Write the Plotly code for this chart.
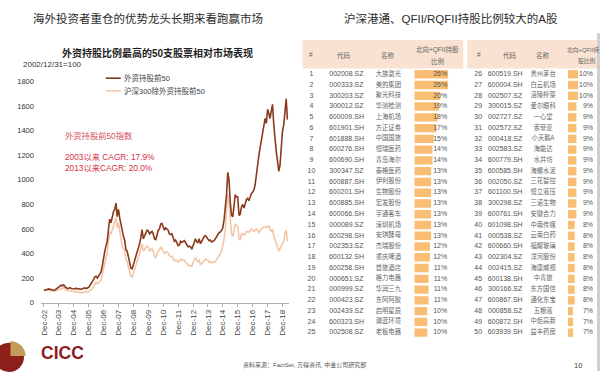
import math
import pandas as pd
import plotly.graph_objects as go

W, H = 600, 376

# ---------------- data ----------------
dates = pd.date_range("2002-12-31", "2019-04-30", freq="ME")

top50 = [100,
    105, 108, 110, 112, 108, 104, 102, 100, 104, 112, 120, 130,
    140, 142, 138, 145, 128, 118, 115, 118, 122, 116, 118, 114,
    112, 118, 112, 115, 108, 112, 110, 118, 120, 115, 117, 125,
    140, 155, 165, 190, 210, 215, 200, 215, 230, 250, 300, 380,
    420, 460, 500, 600, 680, 650, 700, 740, 760, 810, 700, 760,
    690, 640, 560, 540, 510, 430, 420, 370, 340, 280, 275, 310,
    340, 370, 410, 440, 480, 530, 595, 520, 540, 570, 590, 585,
    560, 570, 580, 560, 520, 510, 560, 590, 600, 640, 645, 615,
    590, 610, 600, 590, 560, 555, 560, 530, 500, 510, 490, 465,
    470, 500, 490, 500, 505, 490, 470, 455, 460, 455, 435, 460,
    500, 520, 495, 490, 520, 480, 500, 520, 540, 545, 530, 520,
    505, 510, 495, 500, 505, 520, 545, 555, 570, 575, 590, 610,
    680, 760, 880, 1060, 1000, 820, 710, 700, 790, 880, 860, 860,
    710, 720, 780, 800, 770, 800, 840, 850, 830, 860, 890, 900,
    920, 960, 1050, 1160, 1200, 1260, 1330, 1400, 1455, 1500, 1460, 1575,
    1540, 1500, 1560, 1615, 1450, 1300, 1230, 1150, 1070, 1120, 1250, 1400,
    1450, 1560, 1660, 1490]

hs300_ex = [100,
    102, 105, 104, 103, 100, 98, 96, 94, 95, 98, 102, 108,
    115, 120, 118, 122, 108, 100, 98, 97, 100, 95, 96, 92,
    90, 92, 86, 85, 80, 82, 80, 84, 85, 82, 83, 90,
    100, 108, 112, 130, 155, 165, 155, 160, 170, 185, 230, 300,
    340, 380, 410, 500, 580, 560, 600, 640, 660, 690, 610, 650,
    580, 540, 460, 440, 420, 350, 340, 290, 260, 215, 210, 240,
    270, 300, 340, 370, 400, 440, 480, 420, 430, 450, 460, 450,
    420, 430, 440, 420, 380, 370, 400, 420, 430, 455, 440, 420,
    400, 410, 415, 405, 380, 375, 380, 360, 340, 345, 345, 330,
    335, 355, 345, 350, 345, 330, 320, 305, 300, 300, 295, 325,
    355, 370, 345, 335, 345, 310, 315, 330, 345, 355, 350, 345,
    330, 335, 325, 330, 330, 335, 350, 365, 380, 400, 420, 470,
    520, 600, 720, 880, 820, 650, 560, 540, 600, 640, 630, 620,
    520, 510, 560, 560, 550, 560, 580, 580, 575, 590, 600, 590,
    580, 590, 600, 590, 570, 585, 600, 610, 615, 620, 610, 615,
    630, 590, 580, 600, 545, 510, 480, 450, 420, 440, 460, 470,
    500, 560, 590, 500]

tick_years = list(range(2002, 2019))
tick_labels = ["Dec-%02d" % (y % 100) for y in tick_years]
y_ticks = list(range(0, 2000, 200))

left_rank = list(range(1, 26))
left_code = ["002008.SZ", "000333.SZ", "300203.SZ", "300012.SZ", "600009.SH",
             "601901.SH", "601888.SH", "600276.SH", "600690.SH", "300347.SZ",
             "600887.SH", "600201.SH", "600885.SH", "600066.SH", "000089.SZ",
             "600298.SH", "002353.SZ", "600132.SH", "600258.SH", "000651.SZ",
             "000999.SZ", "000423.SZ", "002439.SZ", "600323.SH", "002508.SZ"]
left_name = ["大族激光", "美的集团", "聚光科技", "华测检测", "上海机场",
             "方正证券", "中国国旅", "恒瑞医药", "青岛海尔", "泰格医药",
             "伊利股份", "生物股份", "宏发股份", "宇通客车", "深圳机场",
             "安琪酵母", "杰瑞股份", "重庆啤酒", "首旅酒店", "格力电器",
             "华润三九", "东阿阿胶", "启明星辰", "瀚蓝环境", "老板电器"]
left_pct = [26, 26, 20, 19, 18, 17, 15, 14, 14, 13, 13, 13, 13, 13, 13,
            13, 12, 12, 11, 11, 11, 11, 10, 10, 10]

right_rank = list(range(26, 51))
right_code = ["600519.SH", "600004.SH", "002507.SZ", "300015.SZ", "002727.SZ",
              "002572.SZ", "000418.SZ", "002583.SZ", "600779.SH", "600585.SH",
              "002050.SZ", "601100.SH", "300298.SZ", "600761.SH", "601098.SH",
              "000538.SZ", "600660.SH", "002304.SZ", "002415.SZ", "600138.SH",
              "300166.SZ", "600867.SH", "000858.SZ", "600872.SH", "603939.SH"]
right_name = ["贵州茅台", "白云机场", "涪陵榨菜", "爱尔眼科", "一心堂",
              "索菲亚", "小天鹅A", "海能达", "水井坊", "海螺水泥",
              "三花智控", "恒立液压", "三诺生物", "安徽合力", "中南传媒",
              "云南白药", "福耀玻璃", "洋河股份", "海康威视", "中青旅",
              "东方国信", "通化东宝", "五粮液", "中炬高新", "益丰药房"]
right_pct = [10, 10, 10, 9, 9, 9, 9, 9, 9, 9, 9, 9, 9, 9, 8, 8, 8, 8, 8, 8,
             8, 8, 7, 7, 7]

# ---------------- styling helpers ----------------
LAT = "Liberation Sans, Arial, Noto Sans CJK SC, sans-serif"
CJK = "Noto Sans CJK SC, sans-serif"
DARK = "#8a3a1c"
LIGHT = "#f3c6a9"
BAR = "#f9bd73"
HEAD = "#f9e2d1"


def fx(p):
    return p / W


def fy(p):
    return 1 - p / H


fig = go.Figure()

# ---------------- line chart ----------------
fig.add_trace(go.Scatter(x=dates, y=hs300_ex, mode="lines",
                         line=dict(color=LIGHT, width=1.6), name="沪深300除外资持股前50",
                         xaxis="x", yaxis="y", showlegend=False))
fig.add_trace(go.Scatter(x=dates, y=top50, mode="lines",
                         line=dict(color=DARK, width=1.6), name="外资持股前50",
                         xaxis="x", yaxis="y", showlegend=False))

# ---------------- tables ----------------
row_idx = list(range(1, 26))
text_font = dict(family=LAT, size=7, color="#555")
name_font = dict(family=CJK, size=6.3, color="#666")

fig.add_trace(go.Bar(x=left_pct, y=row_idx, orientation="h", width=0.78,
                     marker=dict(color=BAR, line=dict(width=0)),
                     xaxis="x2", yaxis="y2", showlegend=False, hoverinfo="skip"))
for colx, txt, fnt, pos in [
        (311, [str(r) for r in left_rank], text_font, "middle center"),
        (346, left_code, text_font, "middle center"),
        (388, left_name, name_font, "middle center"),
        (447, ["%d%%" % v for v in left_pct], text_font, "middle left")]:
    fig.add_trace(go.Scatter(x=[colx] * len(txt), y=row_idx, mode="text",
                             text=txt, textposition=pos, textfont=fnt,
                             xaxis="x3", yaxis="y2", showlegend=False, hoverinfo="skip"))

fig.add_trace(go.Bar(x=right_pct, y=row_idx, orientation="h", width=0.78,
                     marker=dict(color=BAR, line=dict(width=0)),
                     xaxis="x4", yaxis="y4", showlegend=False, hoverinfo="skip"))
for colx, txt, fnt, pos in [
        (478, [str(r) for r in right_rank], text_font, "middle center"),
        (505, right_code, text_font, "middle center"),
        (543, right_name, name_font, "middle center"),
        (593, ["%d%%" % v for v in right_pct], text_font, "middle left")]:
    fig.add_trace(go.Scatter(x=[colx] * len(txt), y=row_idx, mode="text",
                             text=txt, textposition=pos, textfont=fnt,
                             xaxis="x5", yaxis="y4", showlegend=False, hoverinfo="skip"))

row_top, row_h = 72, 11.03
tab_dom = [fy(row_top + 24.5 * row_h), fy(row_top - 0.5 * row_h)]
hidden = dict(visible=False, fixedrange=True)

fig.update_layout(
    width=W, height=H, margin=dict(l=0, r=0, t=0, b=0),
    paper_bgcolor="white", plot_bgcolor="rgba(0,0,0,0)",
    showlegend=False,
    xaxis=dict(domain=[fx(40), fx(288)], type="date",
               range=["2002-10-19", "2019-05-27"],
               tickvals=[pd.Timestamp("%d-12-31" % y) for y in tick_years],
               ticktext=tick_labels, tickangle=-90,
               tickfont=dict(family=LAT, size=8, color="#444"),
               showgrid=False, zeroline=False, showline=True,
               linecolor="#b0b0b0", linewidth=1, ticks="outside",
               ticklen=3, tickcolor="#b0b0b0", anchor="y"),
    yaxis=dict(domain=[fy(306), fy(79.5)], range=[0, 1800],
               tickvals=y_ticks, showgrid=False, zeroline=False,
               showline=False, ticks="", ticklabelstandoff=6,
               tickfont=dict(family=LAT, size=7.5, color="#333"), anchor="x"),
    xaxis2=dict(domain=[fx(414), fx(463)], range=[0, 37.7], anchor="y2", **hidden),
    yaxis2=dict(domain=tab_dom, range=[25.5, 0.5], anchor="x2", **hidden),
    xaxis3=dict(domain=[fx(302), fx(463)], range=[302, 463], anchor="y2", **hidden),
    xaxis4=dict(domain=[fx(568), 1.0], range=[4, 23.2], anchor="y4", **hidden),
    yaxis4=dict(domain=tab_dom, range=[25.5, 0.5], anchor="x4", **hidden),
    xaxis5=dict(domain=[fx(467), 1.0], range=[467, 600], anchor="y4", **hidden),
)

shapes = []
shapes.append(dict(type="rect", xref="paper", yref="paper", x0=fx(302), x1=fx(463),
                   y0=fy(66), y1=fy(37), fillcolor=HEAD, line=dict(width=0), layer="below"))
shapes.append(dict(type="rect", xref="paper", yref="paper", x0=fx(467), x1=1.0,
                   y0=fy(66), y1=fy(37), fillcolor=HEAD, line=dict(width=0), layer="below"))
shapes.append(dict(type="line", xref="paper", yref="paper", x0=fx(105), x1=fx(120),
                   y0=fy(76), y1=fy(76), line=dict(color=DARK, width=1.6)))
shapes.append(dict(type="line", xref="paper", yref="paper", x0=fx(105), x1=fx(120),
                   y0=fy(89), y1=fy(89), line=dict(color=LIGHT, width=1.6)))
shapes.append(dict(type="rect", xref="paper", yref="paper", x0=fx(597), x1=1.0,
                   y0=fy(376), y1=fy(30), fillcolor="#cfcfcf", line=dict(width=0),
                   layer="below"))
shapes.append(dict(type="circle", xref="paper", yref="paper", x0=fx(-7), x1=fx(23),
                   y0=fy(377), y1=fy(347), fillcolor="#8d1f1a", line=dict(width=0)))
cx, cy, r = 8, 362, 15
pts = []
for k in range(0, 31):
    a = math.radians(-90 + 90 * k / 30)
    pts.append((cx + r * math.cos(a), cy + r * math.sin(a)))
path = "M %.4f %.4f " % (fx(cx + 1.5), fy(cy - 1.5))
path += " ".join("L %.4f %.4f" % (fx(px + 1.5), fy(py - 1.5)) for px, py in pts) + " Z"
shapes.append(dict(type="path", xref="paper", yref="paper", path=path,
                   fillcolor="#c49a5a", line=dict(width=0)))
fig.update_layout(shapes=shapes)

ann = []


def text(x, y, s, size, color="#333", family=CJK, xanchor="center", bold=False):
    if bold:
        s = "<b>%s</b>" % s
    ann.append(dict(x=fx(x), y=fy(y), xref="paper", yref="paper", text=s,
                    showarrow=False, xanchor=xanchor, yanchor="middle",
                    font=dict(family=family, size=size, color=color)))


text(147, 14, "海外投资者重仓的优势龙头长期来看跑赢市场", 11.5, "#2b2b2b")
text(451, 15, "沪深港通、QFII/RQFII持股比例较大的A股", 11.5, "#2b2b2b", family=LAT)
text(157, 50, "外资持股比例最高的50支股票相对市场表现", 10, "#222", family=LAT, bold=True)
text(20, 62, "2002/12/31=100", 8, "#333", family=LAT, xanchor="left")
text(121, 76, "外资持股前50", 7.5, "#444", family=LAT, xanchor="left")
text(121, 89, "沪深300除外资持股前50", 7.5, "#444", family=LAT, xanchor="left")
text(62, 135, "外资持股前50指数", 8.3, "#d4505f", family=LAT, xanchor="left")
text(62, 157, "2003以来 CAGR: 17.9%", 8.3, "#d0303f", family=LAT, xanchor="left")
text(62, 168, "2013以来CAGR: 20.0%", 8.3, "#d0303f", family=LAT, xanchor="left")
hc = "#666"
text(311, 52, "#", 6.5, hc, family=LAT)
text(344, 52, "代码", 6.5, hc)
text(388, 52, "名称", 6.5, hc)
text(437, 47, "北向+QFII持股", 6.5, hc, family=LAT)
text(437, 58, "比例", 6.5, hc)
text(479, 52, "#", 6.5, hc, family=LAT)
text(510, 52, "代码", 6.5, hc)
text(543, 52, "名称", 6.5, hc)
text(565, 47, "北向+QFII持", 5.8, hc, family=LAT, xanchor="left")
text(576, 58, "股比例", 5.8, hc, xanchor="left")
text(38, 358, "CICC", 17.5, "#8e1b20", family=LAT, xanchor="left", bold=True)
text(240, 370, "资料来源：FactSet, 万得资讯, 中金公司研究部", 6, "#555", family=LAT, xanchor="left")
text(578, 370, "10", 7.5, "#444", family=LAT)
fig.update_layout(annotations=ann)

fig.write_html("out.html",
               config={"displayModeBar": False, "staticPlot": True},
               post_script="document.body.style.margin='0';"
                           "document.body.style.overflow='hidden';")
